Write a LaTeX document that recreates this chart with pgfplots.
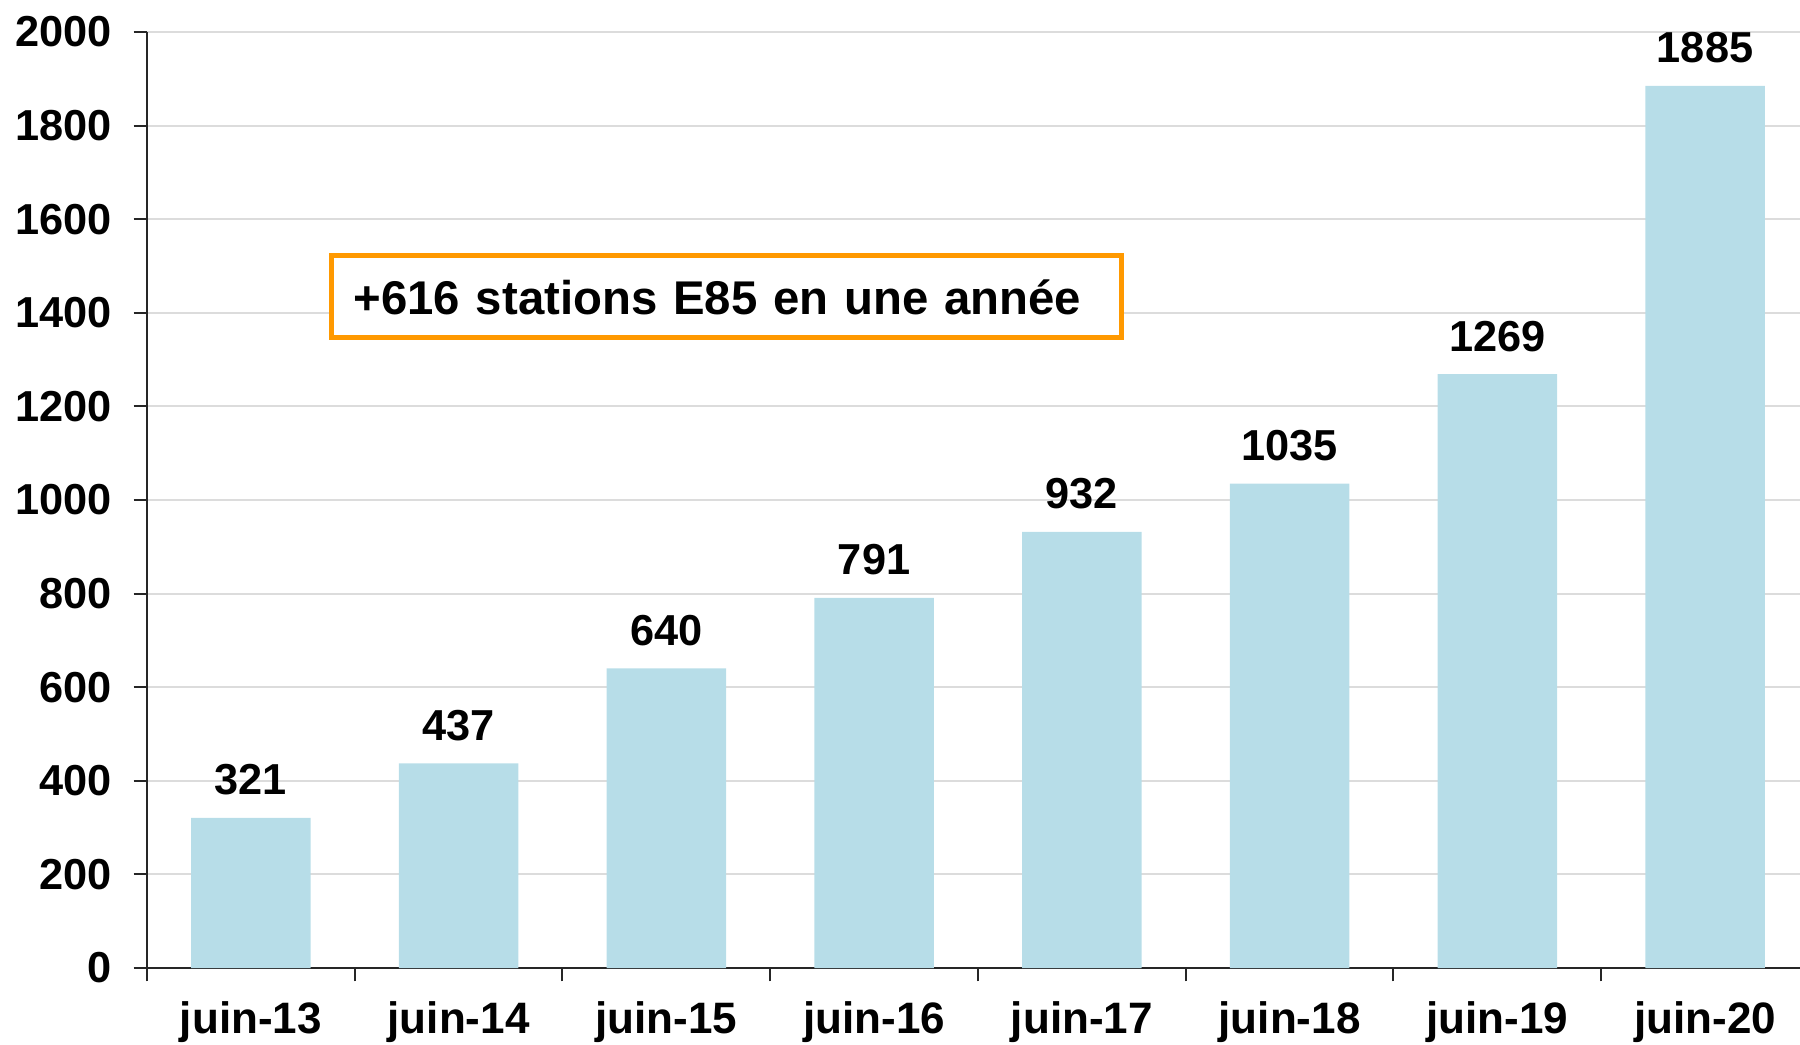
\documentclass[border=0pt]{standalone}
\usepackage{pgfplots}
\pgfplotsset{compat=1.18}
\usepackage{fontspec}
\setmainfont{Liberation Sans}
\definecolor{barblue}{HTML}{B7DDE8}
\definecolor{boxorange}{HTML}{FF9900}
\definecolor{gridgray}{HTML}{DCDCDC}
\begin{document}
\begin{tikzpicture}
\useasboundingbox (-44.1pt,-22.8pt) rectangle (495.9pt,290.4pt);
\begin{axis}[
  at={(0,0)}, anchor=south west,
  scale only axis,
  width=495.9pt, height=280.8pt,
  xmin=-0.5, xmax=7.457,
  ymin=0, ymax=2000,
  axis x line=bottom, axis y line=left,
  axis line style={-, line width=0.6pt, black!85},
  ytick={0,200,...,2000},
  xtick={0,1,2,3,4,5,6,7},
  xticklabels={juin-13,juin-14,juin-15,juin-16,juin-17,juin-18,juin-19,juin-20},
  minor xtick={-0.5,0.5,1.5,2.5,3.5,4.5,5.5,6.5},
  major x tick style={draw=none},
  tick align=outside,
  major tick length=4pt, minor tick length=4pt,
  tick style={line width=0.6pt, black!85},
  ymajorgrids,
  grid style={line width=0.6pt, gridgray},
  /pgf/number format/.cd, 1000 sep={}, assume math mode=true,
  /pgfplots/.cd,
  yticklabel style={font=\fontsize{13}{15}\selectfont\bfseries, xshift=-3pt},
  xticklabel style={font=\fontsize{13.2}{15}\selectfont\bfseries, yshift=-2.6pt},
  ybar, bar width=0.575,
  nodes near coords,
  every node near coord/.append style={font=\fontsize{13}{16}\selectfont\bfseries, anchor=south, inner sep=0pt, yshift=6.6pt},
  clip=false,
]
\addplot[fill=barblue, draw=none] coordinates {
  (0,321) (1,437) (2,640) (3,791) (4,932) (5,1035) (6,1269) (7,1885)
};
\node[draw=boxorange, line width=1.5pt, fill=white, minimum height=24.6pt,
      text width=223.8pt, inner xsep=6.6pt, align=left,
      font=\fontsize{14.2}{17}\selectfont\bfseries]
  at (axis cs:2.29,1434) {+616 stations E85 en une année};
\end{axis}
\end{tikzpicture}
\end{document}
